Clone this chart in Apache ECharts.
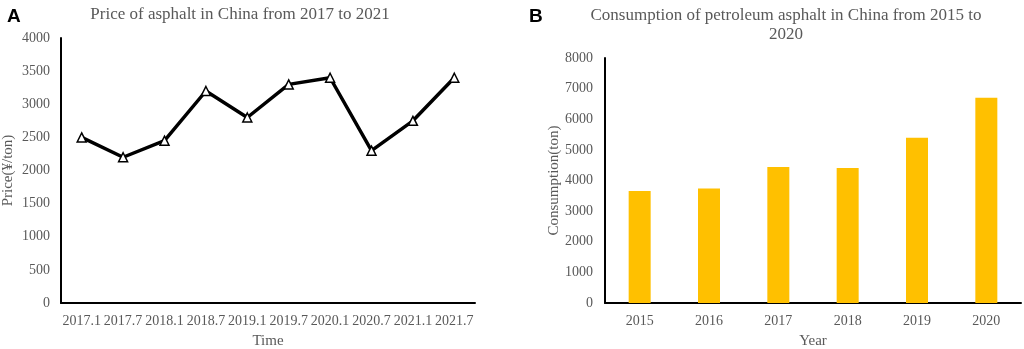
<!DOCTYPE html>
<html><head><meta charset="utf-8">
<script src="https://cdn.jsdelivr.net/npm/echarts@6/dist/echarts.min.js"></script>
<style>html,body{margin:0;padding:0;background:#fff}#c{width:1024px;height:349px}</style>
</head><body><div id="c"></div>
<script>
const timeCats = ['2017.1','2017.7','2018.1','2018.7','2019.1','2019.7','2020.1','2020.7','2021.1','2021.7'];
const priceVals = [2500,2200,2450,3200,2800,3300,3400,2300,2750,3400];
const yearCats = ['2015','2016','2017','2018','2019','2020'];
const consumptionVals = [3660,3740,4440,4410,5400,6700];

const grey = '#595959';
const serif = '"Liberation Serif","Times New Roman",serif';
const chart = echarts.init(document.getElementById('c'));
const axisLine = {show:true, lineStyle:{color:'#000', width:2}};
const plain = v => String(v);
chart.setOption({
  animation:false,
  title:[
    {text:'Price of asphalt in China from 2017 to 2021', left:235, top:1, textAlign:'center',
     textStyle:{fontFamily:serif, fontWeight:'normal', fontSize:17, color:grey}},
    {text:'Consumption of petroleum asphalt in China from 2015 to\n2020', left:781, top:1, textAlign:'center',
     textStyle:{fontFamily:serif, fontWeight:'normal', fontSize:17, color:grey, lineHeight:19}},
    {text:'A', left:2, top:2, textStyle:{fontFamily:'"Liberation Sans",Arial,sans-serif', fontWeight:'bold', fontSize:19, color:'#000'}},
    {text:'B', left:524, top:2, textStyle:{fontFamily:'"Liberation Sans",Arial,sans-serif', fontWeight:'bold', fontSize:19, color:'#000'}}
  ],
  grid:[
    {left:61, right:549, top:38, bottom:46, outerBoundsMode:'none', containLabel:false},
    {left:605, right:3, top:58, bottom:46, outerBoundsMode:'none', containLabel:false}
  ],
  xAxis:[
    {type:'category', gridIndex:0, data:timeCats, boundaryGap:true, axisLine, axisTick:{show:false},
     axisLabel:{fontFamily:serif, fontSize:14, color:grey, margin:11, interval:0},
     name:'Time', nameLocation:'middle', nameGap:31, nameTextStyle:{fontFamily:serif, fontSize:15, color:grey}},
    {type:'category', gridIndex:1, data:yearCats, boundaryGap:true, axisLine, axisTick:{show:false},
     axisLabel:{fontFamily:serif, fontSize:14, color:grey, margin:11},
     name:'Year', nameLocation:'middle', nameGap:31, nameTextStyle:{fontFamily:serif, fontSize:15, color:grey}}
  ],
  yAxis:[
    {type:'value', gridIndex:0, min:0, max:4000, interval:500, axisLine, axisTick:{show:false}, splitLine:{show:false},
     axisLabel:{fontFamily:serif, fontSize:14, color:grey, margin:11, formatter:plain},
     name:'Price(¥/ton)', nameLocation:'middle', nameGap:45, nameTextStyle:{fontFamily:serif, fontSize:15, color:grey}},
    {type:'value', gridIndex:1, min:0, max:8000, interval:1000, axisLine, axisTick:{show:false}, splitLine:{show:false},
     axisLabel:{fontFamily:serif, fontSize:14, color:grey, margin:12, formatter:plain},
     name:'Consumption(ton)', nameLocation:'middle', nameGap:42, nameTextStyle:{fontFamily:serif, fontSize:15, color:grey}}
  ],
  series:[
    {type:'line', xAxisIndex:0, yAxisIndex:0, data:priceVals, symbol:'triangle', symbolSize:9,
     lineStyle:{color:'#000', width:3.5}, itemStyle:{color:'#fff', borderColor:'#000', borderWidth:1.5}, z:3},
    {type:'bar', xAxisIndex:1, yAxisIndex:1, data:consumptionVals, barWidth:22, itemStyle:{color:'#FFC000'}}
  ]
});
</script></body></html>
